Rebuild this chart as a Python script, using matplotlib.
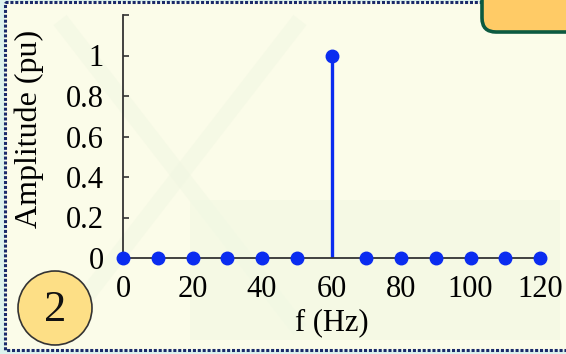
import matplotlib
matplotlib.use("Agg")
import matplotlib.pyplot as plt
from matplotlib.patches import Circle, FancyBboxPatch, Rectangle
import numpy as np

# data
freqs = [0, 10, 20, 30, 40, 50, 60, 70, 80, 90, 100, 110, 120]
amps = [0, 0, 0, 0, 0, 0, 1, 0, 0, 0, 0, 0, 0]
xticks = [0, 20, 40, 60, 80, 100, 120]
yticks = [0, 0.2, 0.4, 0.6, 0.8, 1, 1.2]
ytick_labels = ["0", "0.2", "0.4", "0.6", "0.8", "1", ""]

W, H = 566, 354
fig = plt.figure(figsize=(W / 100, H / 100), dpi=100)
fig.patch.set_facecolor("#DDF3EE")

plt.rcParams["font.family"] = ["Liberation Serif", "DejaVu Serif"]

# background panel
bg = fig.add_axes([0, 0, 1, 1])
bg.set_xlim(0, W)
bg.set_ylim(H, 0)
bg.axis("off")
bg.add_patch(Rectangle((5, 2), W, 348, facecolor="#FBFCE9", edgecolor="none", zorder=0))
# faint background pattern
for (x0, y0, x1, y1) in [(60, 20, 300, 330), (300, 20, 60, 330)]:
    bg.plot([x0, x1], [y0, y1], color="#F1F7E2", lw=12, alpha=0.5, solid_capstyle="butt", zorder=1)
bg.add_patch(Rectangle((190, 200), 370, 140, facecolor="#F1F8E2", edgecolor="none", alpha=0.6, zorder=1))
bg.add_patch(Rectangle((5, 2), W, 348, facecolor="none", edgecolor="#1A2A6A", lw=2.2,
                       linestyle=(0, (1, 0.6)), zorder=2))

# orange box top-right
box = FancyBboxPatch((482, -40), 120, 72, boxstyle="round,pad=0,rounding_size=14",
                     facecolor="#FFCB66", edgecolor="#0C5A40", lw=2.6, zorder=3)
bg.add_patch(box)

# circle with number
bg.add_patch(Circle((55, 308), 37, facecolor="#FDDF86", edgecolor="#333333", lw=1.2, zorder=3))
bg.text(55, 310, "2", fontsize=32, ha="center", va="center", color="#111111", zorder=4)

# main axes
ax = fig.add_axes([123 / W, 1 - 258 / H, 417 / W, 243 / H])
ax.patch.set_alpha(0)
markerline, stemlines, baseline = ax.stem(freqs, amps, basefmt=" ")
markerline.set_color("#0A2CF0")
markerline.set_markersize(9)
markerline.set_clip_on(False)
markerline.set_zorder(4)
stemlines.set_color("#0A2CF0")
stemlines.set_linewidth(2.4)
ax.set_xlim(0, 120)
ax.set_ylim(0, 1.2)
ax.set_xticks(xticks)
ax.set_yticks(yticks)
ax.set_yticklabels(ytick_labels)
ax.spines["top"].set_visible(False)
ax.spines["right"].set_visible(False)
for s in ("left", "bottom"):
    ax.spines[s].set_color("#333333")
    ax.spines[s].set_linewidth(1.3)
ax.tick_params(axis="y", direction="in", length=4, width=1.2, color="#333333", pad=14, labelsize=22)
ax.tick_params(axis="x", length=0, pad=12, labelsize=22)
ax.set_xlabel("f (Hz)", fontsize=22)
ax.xaxis.set_label_coords(0.5, -0.205)
ax.set_ylabel("Amplitude (pu)", fontsize=23)
ax.yaxis.set_label_coords(-0.19, 0.53)

fig.savefig("out.png", dpi=100)
